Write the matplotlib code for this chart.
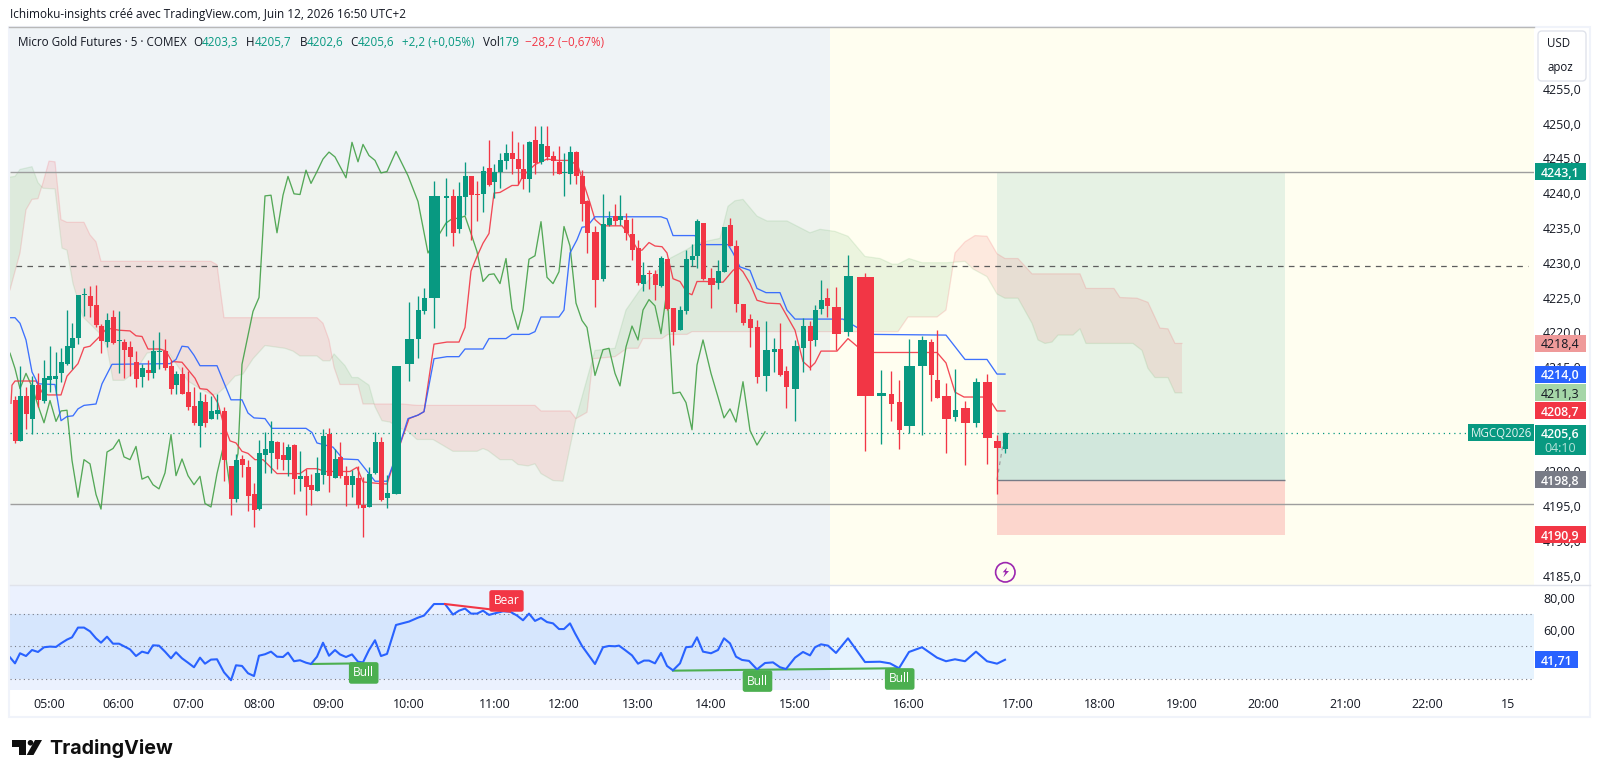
import numpy as np
import matplotlib
matplotlib.use("Agg")
import matplotlib.pyplot as plt
from matplotlib.patches import Rectangle, FancyBboxPatch, Circle, Polygon
from matplotlib.transforms import Affine2D
from matplotlib.lines import Line2D

plt.rcParams['font.family'] = ['Open Sans', 'DejaVu Sans']

# ---------- data ----------
bar_x = [15.3,20.3,26.3,32.3,38.3,44.3,49.7,55.7,61.3,67.3,72.3,78.3,84.3,90.3,96.3,101.3,107.3,113.3,119.3,124.3,
 130.3,136.3,142.3,148.3,153.3,159.3,165.3,171.3,176.3,182.3,188.3,194.3,200.3,205.3,211.3,217.3,224.3,231.3,236.3,242.3,
 248.3,254.3,259.3,265.3,271.3,277.3,283.3,288.3,294.3,300.3,306.3,311.3,317.3,323.3,329.3,335.3,340.3,346.3,352.3,358.3,
 363.3,369.3,375.3,381.3,387.3,396.3,409.3,418.3,424.3,434.3,446.3,453.3,459.3,465.3,471.3,477.3,483.3,489.3,494.3,500.3,
 506.3,512.3,518.3,523.3,529.3,535.3,541.3,547.3,553.3,559.3,564.3,570.3,576.3,582.3,587.3,595.3,603.3,609.3,615.3,620.3,
 626.3,632.3,638.3,643.3,649.3,655.3,661.3,667.3,673.3,680.3,686.3,692.3,697.3,703.3,711.3,718.3,724.3,730.3,736.3,743.3,
 750.3,757.3,766.3,774.3,780.3,786.3,795.3,803.3,810.3,815.3,821.3,827.3,836.3,848.3,865.3,881.3,891.3,899.3,909.3,922.3,
 931.3,937.3,946.3,955.3,965.3,976.3,987.3,997.3,1005.3]
bar_w = [4.7]*36 + [5.3] + [4.7]*28 + [9,9,5,5,11] + [4.7]*25 + [7] + [4.7]*18 + [7] + [4.7]*7 + [7] + [4.7]*3 + [7] + [4.7]*5 + [9,9,17,9,5,5,11,9,5,5,9,5,9,7,9,7,5]
bar_open = [4210.3,4204.4,4210.9,4207.5,4212.5,4210.2,4213.1,4213.3,4214.1,4215.5,4217.7,4219.2,4225.3,4225.2,4223.9,4220.9,4218.6,4222.2,4218.7,4218.6,
 4217.9,4215.8,4213.6,4214.6,4214.1,4217.2,4217.3,4215.2,4212.4,4214.0,4211.4,4209.4,4206.6,4210.0,4207.6,4208.2,4208.7,4200.8,4196.1,4201.8,
 4200.7,4196.7,4194.6,4202.4,4202.7,4204.3,4202.3,4201.6,4203.8,4198.9,4199.3,4198.1,4197.2,4199.5,4205.4,4199.1,4202.1,4199.4,4198.1,4199.0,
 4195.2,4194.9,4199.8,4204.3,4196.2,4196.7,4215.5,4219.0,4223.1,4224.9,4239.3,4239.6,4234.8,4239.4,4242.5,4239.9,4239.9,4243.6,4241.6,4243.1,
 4244.6,4245.8,4244.9,4243.4,4242.1,4247.6,4244.5,4246.8,4245.4,4244.5,4242.9,4242.8,4245.9,4242.4,4238.8,4234.4,4227.7,4235.4,4236.7,4236.1,
 4236.1,4234.1,4232.1,4226.9,4228.5,4228.4,4226.6,4230.5,4223.5,4220.4,4223.1,4230.4,4230.9,4235.7,4227.8,4227.1,4228.7,4235.4,4232.4,4224.1,
 4221.9,4220.7,4213.7,4217.1,4217.6,4214.4,4211.9,4217.7,4220.9,4218.9,4223.4,4224.9,4223.6,4220.0,4228.0,4210.9,4211.1,4210.0,4206.6,4215.2,
 4218.6,4213.1,4210.8,4207.8,4209.1,4207.0,4212.8,4204.4,4203.3]
bar_close = [4204.4,4210.8,4208.2,4212.4,4210.3,4213.4,4213.7,4213.7,4215.8,4218.0,4219.2,4225.3,4225.5,4223.8,4221.0,4218.8,4221.8,4218.5,4218.9,4217.4,
 4216.4,4213.3,4214.9,4214.1,4217.3,4217.3,4214.8,4211.8,4214.0,4211.2,4209.2,4206.9,4210.2,4207.0,4208.7,4208.8,4201.6,4196.1,4201.7,4201.0,
 4196.5,4194.4,4202.7,4203.2,4204.4,4201.8,4201.6,4203.5,4198.9,4199.3,4197.8,4197.4,4199.8,4205.1,4199.3,4201.8,4199.3,4198.0,4199.3,4195.2,
 4194.7,4199.6,4204.2,4195.9,4196.9,4215.2,4219.0,4223.2,4224.9,4239.6,4239.6,4234.2,4239.6,4242.5,4239.7,4239.7,4243.2,4241.2,4243.0,4244.8,
 4245.8,4244.9,4243.4,4242.1,4247.3,4244.3,4247.0,4245.2,4244.6,4242.8,4243.0,4245.9,4242.4,4238.5,4234.2,4227.5,4235.6,4236.4,4236.0,4236.7,
 4234.2,4231.8,4227.1,4228.3,4228.4,4226.8,4230.7,4223.4,4220.1,4223.2,4230.5,4230.9,4236.0,4227.7,4226.8,4228.8,4235.1,4232.4,4224.0,4221.4,
 4220.6,4213.6,4217.4,4217.6,4213.8,4212.1,4218.0,4220.9,4218.7,4223.2,4224.6,4223.8,4219.7,4228.1,4210.9,4211.3,4209.7,4205.9,4215.2,4218.9,
 4213.8,4210.5,4207.6,4208.9,4207.0,4212.8,4204.8,4203.4,4205.6]
bar_high = [4210.9,4215.1,4212.1,4213.7,4214.2,4216.0,4218.0,4217.1,4217.8,4223.2,4221.3,4225.3,4226.3,4226.6,4226.8,4221.2,4222.8,4223.2,4223.0,4219.0,
 4218.7,4217.3,4215.5,4216.0,4218.9,4220.0,4219.0,4216.0,4214.5,4215.0,4214.5,4212.1,4211.4,4211.1,4210.9,4211.2,4209.3,4200.8,4202.5,4202.3,
 4201.6,4198.4,4204.5,4205.7,4207.2,4204.4,4204.2,4204.0,4204.0,4203.0,4200.3,4199.6,4202.1,4206.1,4206.3,4203.3,4204.3,4200.8,4200.2,4200.8,
 4199.2,4200.6,4205.7,4204.9,4199.5,4215.2,4224.3,4225.2,4226.3,4241.8,4242.2,4240.6,4241.6,4244.5,4242.5,4241.8,4243.9,4247.6,4244.2,4245.8,
 4247.0,4248.9,4247.3,4247.0,4247.5,4249.6,4249.6,4249.6,4246.0,4246.7,4245.8,4246.8,4246.1,4243.3,4239.0,4235.3,4239.9,4237.5,4238.4,4239.7,
 4237.1,4236.4,4233.2,4230.1,4229.0,4229.0,4230.9,4230.5,4223.5,4223.8,4231.8,4232.7,4236.3,4235.7,4229.2,4230.4,4235.1,4236.4,4233.2,4224.1,
 4222.6,4221.7,4221.6,4219.2,4221.3,4215.2,4218.9,4222.0,4221.6,4223.9,4227.5,4226.3,4226.5,4231.1,4228.5,4214.6,4214.4,4213.1,4219.0,4219.5,
 4219.0,4220.3,4212.7,4214.7,4210.2,4213.4,4214.0,4205.3,4205.7]
bar_low = [4204.1,4204.4,4206.1,4205.4,4209.2,4209.9,4211.4,4211.2,4212.9,4215.3,4214.7,4218.3,4222.3,4222.2,4220.7,4217.0,4217.9,4218.3,4214.2,4213.5,
 4213.7,4212.1,4212.1,4213.1,4213.4,4214.7,4214.6,4211.2,4211.1,4211.1,4208.8,4206.7,4203.5,4206.4,4207.5,4207.6,4198.6,4193.7,4195.6,4199.2,
 4194.3,4192.0,4194.4,4199.8,4199.8,4200.3,4200.2,4199.4,4196.7,4197.2,4193.7,4195.2,4197.2,4198.2,4197.1,4199.0,4199.0,4195.0,4196.4,4194.8,
 4190.6,4194.9,4199.6,4195.8,4194.8,4196.7,4213.0,4216.3,4222.6,4220.6,4233.8,4232.4,4234.3,4236.9,4233.3,4236.0,4237.3,4241.0,4239.3,4240.8,
 4243.4,4242.7,4241.3,4240.6,4240.1,4242.7,4244.2,4244.8,4242.6,4242.7,4239.6,4241.3,4241.3,4236.0,4231.4,4223.6,4227.4,4235.3,4235.4,4235.4,
 4233.3,4230.4,4226.8,4225.9,4226.2,4224.7,4226.5,4223.2,4218.2,4220.3,4222.6,4229.5,4229.2,4227.5,4223.5,4226.2,4228.6,4232.4,4222.9,4221.1,
 4217.9,4212.7,4211.6,4214.3,4213.7,4209.1,4207.2,4214.3,4214.6,4218.0,4222.6,4222.2,4217.4,4219.5,4202.9,4204.0,4207.2,4203.2,4205.6,4205.3,
 4210.2,4210.5,4202.6,4207.2,4201.0,4206.4,4201.1,4196.8,4202.6]

tenkan_x = [11,12,15,36,42,48,61,67,78,84,90,99,107,119,130,136,142,148,160,166,172,182,195,200,207,213,218,223,230,236,242,248,255,263,277,300,307,317,325,350,357,363,377,387,397,409,418,424,434,447,459,465,471,477,483,489,494,500,512,518,523,535,541,547,558,570,578,590,595,602,622,628,638,642,649,655,662,667,673,680,687,692,697,705,723,733,738,743,750,757,767,780,795,803,810,815,821,837,848,857,873,937,946,955,964,983,992,997,1005]
tenkan_y = [4209.8,4212.4,4213.0,4213.0,4211.4,4211.0,4211.0,4213.7,4215.5,4217.8,4218.0,4219.3,4220.6,4220.3,4220.2,4219.5,4219.4,4217.6,4217.6,4217.3,4215.8,4215.7,4213.4,4211.9,4211.8,4211.0,4209.8,4207.1,4204.4,4204.1,4202.9,4202.6,4201.7,4201.7,4199.7,4199.7,4200.4,4200.4,4200.0,4200.0,4200.6,4198.5,4198.3,4198.2,4202.6,4207.6,4208.1,4208.6,4218.3,4218.6,4218.6,4220.7,4228.8,4230.9,4232.8,4234.2,4240.0,4240.1,4241.1,4241.1,4242.5,4244.1,4244.5,4244.9,4244.7,4244.7,4243.9,4238.6,4236.2,4235.3,4235.3,4234.2,4231.8,4231.8,4232.9,4232.4,4232.3,4231.4,4227.7,4227.3,4225.7,4225.4,4227.3,4227.3,4227.2,4228.9,4229.4,4228.7,4227.0,4224.6,4224.2,4224.1,4220.3,4215.8,4214.9,4215.6,4217.3,4217.3,4219.1,4218.0,4217.1,4217.1,4215.6,4211.4,4210.7,4210.7,4209.8,4208.7,4208.7]

kijun_x = [10,15,20,26,32,38,55,61,67,73,78,84,96,102,112,170,176,182,188,194,200,217,231,242,248,254,265,272,306,312,317,333,343,358,375,387,397,408,418,424,434,447,459,465,483,489,506,512,529,535,541,559,564,570,577,582,587,595,661,667,673,695,700,728,733,740,750,757,766,780,787,795,843,857,873,946,965,987,997,1005]
kijun_y = [4222.1,4222.1,4221.3,4218.9,4214.3,4212.6,4212.5,4207.3,4207.9,4208.0,4209.0,4209.5,4209.7,4212.6,4215.4,4215.5,4216.1,4218.0,4217.9,4216.7,4215.2,4215.2,4210.3,4210.3,4208.4,4207.7,4207.6,4206.2,4206.2,4205.6,4204.1,4203.5,4201.8,4201.7,4198.6,4198.6,4202.6,4207.6,4208.1,4208.6,4216.2,4216.5,4216.5,4217.6,4217.6,4219.1,4219.1,4219.7,4219.7,4220.1,4222.2,4222.2,4223.2,4231.4,4233.3,4235.1,4235.2,4236.6,4236.6,4236.3,4233.9,4233.9,4232.6,4232.6,4231.4,4229.4,4228.9,4226.3,4225.7,4225.7,4223.2,4221.9,4221.9,4220.7,4219.7,4219.6,4216.1,4216.1,4214.0,4214.0]

chikou_x = [10,15,20,26,32,38,44,50,56,61,67,72,78,84,90,96,101,107,113,119,124,130,136,142,148,153,159,165,171,176,182,188,194,200,205,211,217,224,230,238,242,253,259,265,271,277,283,288,294,300,306,311,317,323,329,335,346,352,358,363,369,375,381,387,396,408,418,428,446,452,459,465,471,477,483,489,494,500,506,512,518,523,529,535,541,547,553,559,564,570,576,582,587,595,603,609,615,620,626,632,638,643,649,655,661,667,673,680,686,692,697,703,711,718,724,730,736,743,750,757,765]
chikou_y = [4217.0,4214.8,4211.9,4214.1,4212.2,4209.5,4207.0,4210.2,4207.2,4208.7,4208.8,4201.6,4196.3,4201.7,4201.1,4196.7,4194.6,4202.8,4203.3,4204.6,4202.1,4201.7,4203.6,4198.9,4199.3,4198.1,4197.5,4199.8,4205.3,4199.4,4201.8,4199.4,4198.1,4199.3,4195.4,4194.9,4199.7,4204.0,4197.7,4202.6,4215.4,4223.0,4225.0,4239.6,4239.7,4234.3,4239.7,4242.4,4239.9,4239.8,4243.3,4241.4,4243.1,4244.9,4245.9,4245.2,4242.2,4247.3,4244.5,4247.0,4245.4,4244.7,4242.9,4243.1,4246.0,4242.5,4238.8,4231.4,4235.7,4236.3,4236.4,4236.7,4234.2,4231.6,4227.3,4228.3,4228.4,4227.0,4230.6,4223.4,4220.4,4223.2,4230.5,4231.0,4235.9,4227.9,4227.0,4228.7,4235.2,4232.4,4224.2,4221.7,4220.7,4213.8,4217.5,4217.7,4214.1,4212.3,4217.9,4220.9,4218.9,4223.2,4224.7,4223.8,4219.8,4226.1,4211.2,4211.4,4209.9,4206.0,4215.3,4218.9,4214.1,4210.7,4207.7,4209.0,4207.1,4212.9,4205.9,4203.8,4205.7]

span_a_x = [10,15,20,32,38,43,55,62,67,73,83,100,107,113,124,135,147,160,168,177,188,200,212,218,227,235,243,253,265,285,293,300,317,323,330,334,345,352,358,369,375,382,390,400,407,417,433,453,477,483,488,500,512,518,528,535,541,553,563,570,576,595,615,626,640,667,687,697,720,728,735,743,757,767,787,810,820,835,848,865,880,892,898,909,922,947,965,973,987,997,1005,1018,1032,1038,1045,1052,1058,1073,1080,1086,1133,1142,1148,1155,1168,1175,1182]
span_a_y = [4242.3,4242.4,4243.4,4243.8,4241.5,4240.7,4240.6,4232.1,4231.8,4227.0,4222.2,4219.8,4217.9,4213.1,4213.1,4214.3,4217.0,4217.4,4217.2,4215.3,4213.0,4211.9,4211.0,4211.2,4212.4,4213.7,4214.0,4216.2,4218.1,4217.7,4217.3,4216.6,4216.6,4215.9,4215.9,4216.9,4215.2,4213.5,4213.5,4212.4,4209.3,4207.3,4207.1,4206.2,4205.9,4204.6,4204.6,4202.9,4202.9,4203.3,4203.0,4201.7,4201.7,4201.0,4200.8,4201.1,4199.7,4198.7,4198.6,4203.5,4207.6,4217.4,4217.7,4223.2,4226.1,4230.4,4231.9,4232.8,4233.5,4238.1,4238.9,4239.1,4236.7,4236.0,4236.0,4234.3,4234.8,4234.5,4233.8,4230.9,4230.6,4229.8,4229.8,4230.6,4230.0,4230.0,4230.2,4229.1,4228.0,4225.5,4224.9,4224.9,4221.3,4218.9,4218.4,4218.6,4219.6,4219.6,4220.5,4218.4,4218.4,4217.4,4214.8,4213.5,4213.5,4211.3,4211.3]
span_b_x = [10,20,26,32,38,43,49,55,61,67,84,90,96,101,211,217,224,317,323,329,334,340,358,363,402,417,535,541,570,576,587,593,615,627,638,643,662,668,687,692,898,908,937,946,955,965,975,987,997,1005,1018,1032,1080,1086,1114,1120,1137,1148,1160,1168,1175,1182]
span_b_y = [4226.1,4231.4,4237.6,4239.1,4239.2,4241.5,4244.6,4244.5,4236.2,4235.8,4235.8,4234.0,4233.0,4230.2,4230.2,4229.7,4222.1,4222.1,4221.3,4218.9,4215.0,4212.5,4212.5,4209.7,4209.7,4209.5,4209.5,4208.7,4208.7,4207.6,4208.5,4216.2,4216.5,4217.7,4217.7,4219.1,4219.1,4219.7,4219.7,4220.1,4220.1,4222.2,4222.2,4223.2,4231.4,4233.0,4233.9,4233.8,4231.3,4230.6,4230.6,4228.4,4228.4,4226.3,4226.3,4225.0,4224.9,4224.3,4220.6,4220.5,4218.4,4218.4]

rsi_x = [10,15,20,26,32,38,44,50,56,61,67,72,78,84,90,96,101,107,113,119,124,130,136,142,148,153,159,165,171,176,182,188,194,200,205,211,217,224,231,236,242,248,254,259,265,271,277,283,288,294,300,306,311,317,323,329,335,340,346,352,358,363,369,375,381,387,396,409,418,424,434,445,453,459,465,471,477,483,489,495,503,510,517,523,529,535,541,547,553,559,564,570,575,582,595,603,609,615,619,625,632,638,644,649,655,661,667,673,680,686,692,697,703,711,718,724,730,736,742,749,757,765,773,780,786,795,803,810,815,821,828,836,848,865,880,890,899,909,922,937,946,955,965,976,987,997,1005]
rsi_y = [43.2,39.5,45.7,44.0,47.7,46.5,49.4,49.8,49.6,51.8,54.1,55.5,61.5,61.5,59.2,54.9,52.2,55.9,51.6,51.6,50.0,48.1,44.0,46.7,45.7,50.6,50.4,46.7,42.6,46.3,42.6,39.9,37.1,43.0,39.3,41.8,42.0,34.0,29.1,38.3,37.9,33.4,31.7,44.2,45.1,46.7,43.6,43.4,46.1,40.8,41.4,39.9,39.1,43.6,52.2,44.2,47.7,45.0,43.4,45.0,40.5,40.1,47.7,53.7,44.0,45.3,63.1,65.2,67.6,68.9,76.0,76.0,69.5,71.9,73.2,70.1,70.1,71.9,69.3,70.3,71.5,71.3,68.9,66.0,70.1,65.6,67.4,64.9,64.1,60.6,60.6,64.1,58.0,50.2,39.1,49.4,50.2,50.0,50.4,47.7,44.4,39.3,41.2,41.2,39.5,45.9,37.9,35.2,39.5,49.4,49.8,55.5,46.7,45.7,47.7,54.9,51.8,43.6,41.6,41.0,35.8,39.7,40.1,37.1,36.0,43.0,46.5,44.4,49.4,51.2,50.4,45.9,54.9,40.3,40.5,39.5,36.5,46.5,49.4,43.0,40.8,42.0,40.8,46.7,40.8,39.3,41.71]

price_ticks = [4255,4250,4245,4240,4235,4230,4225,4220,4215,4200,4195,4190,4185]
rsi_ticks = [80,60]
time_labels = ['05:00','06:00','07:00','08:00','09:00','10:00','11:00','12:00','13:00','14:00','15:00','16:00','17:00','18:00','19:00','20:00','21:00','22:00','15']
time_pos = [49,118,188,259,328,409,495,564,638,711,795,909,1018,1100,1182,1263,1345,1427,1508]

target_price, entry_price, stop_price, last_price = 4243.1, 4198.8, 4190.9, 4205.6
level_upper, level_mid, level_lower = 4243.1, 4229.5, 4195.3

GREEN, RED, BLUE, INK = '#089981', '#F23645', '#2962FF', '#131722'
W, H = 1600, 778
LEFT, RIGHT, SPLIT, POS_END, MAIN_TOP, MAIN_BOT, RSI_BOT = 10, 1534, 830, 1285, 27, 585, 690

fig = plt.figure(figsize=(W/100, H/100), dpi=100, facecolor='white')
def rect(x0, y0, x1, y1):
    return [x0/W, 1-y1/H, (x1-x0)/W, (y1-y0)/H]
ax = fig.add_axes(rect(LEFT, MAIN_TOP, RIGHT, MAIN_BOT))
rx = fig.add_axes(rect(LEFT, MAIN_BOT, RIGHT, RSI_BOT))
px = Affine2D().scale(1, -1).translate(0, H)

# ---------- main pane ----------
ax.set_xlim(LEFT, RIGHT)
ax.set_ylim(4183.69, 4263.87)
ax.set_facecolor('#FFFEF0')
for a in (ax, rx):
    for s in a.spines.values():
        s.set_visible(False)
ax.axvspan(LEFT, SPLIT, color='#EFF3F6', lw=0, zorder=0)
ax.add_patch(Rectangle((LEFT, level_lower), SPLIT-LEFT, level_upper-level_lower, fc=(1, 0.96, 0.39, 0.05), lw=0, zorder=0.5))

# risk / reward box
ax.add_patch(Rectangle((997, entry_price), POS_END-997, target_price-entry_price, fc=(0.216,0.635,0.557,0.12), lw=0, zorder=1))
ax.add_patch(Rectangle((997, entry_price), POS_END-997, last_price-entry_price, fc=(0.12,0.56,0.59,0.10), lw=0, zorder=1))
ax.add_patch(Rectangle((997, stop_price), POS_END-997, entry_price-stop_price, fc=(0.949,0.212,0.271,0.2), lw=0, zorder=1))

# cloud
xs = np.union1d(span_a_x, span_b_x)
a_i, b_i = np.interp(xs, span_a_x, span_a_y), np.interp(xs, span_b_x, span_b_y)
ax.fill_between(xs, a_i, b_i, where=a_i >= b_i, interpolate=True, color=(0.263,0.627,0.278,0.10), lw=0, zorder=2)
ax.fill_between(xs, a_i, b_i, where=a_i <= b_i, interpolate=True, color=(0.949,0.212,0.271,0.10), lw=0, zorder=2)
ax.plot(span_a_x, span_a_y, color='#43A047', alpha=0.12, lw=0.9, zorder=2.1)
ax.plot(span_b_x, span_b_y, color=RED, alpha=0.15, lw=0.9, zorder=2.1)

# horizontal levels
ax.hlines([level_upper, level_lower], LEFT, RIGHT, color='#9E9E9E', lw=1.0, zorder=2.2)
ax.hlines(level_mid, 16, 1528, color='#5D5D5D', lw=0.9, linestyle=(0, (4.5, 4.2)), zorder=2.2)
ax.hlines(last_price, LEFT, 1468, color=GREEN, lw=0.9, linestyle=(0, (1, 3.2)), zorder=2.3)
ax.hlines(entry_price, 997, POS_END, color='#787B86', lw=1.0, zorder=2.3)
ax.plot([997, 1005], [entry_price, last_price], color='#A0A0A0', lw=0.9, linestyle=(0, (3, 3)), zorder=2.3)

# indicator lines
ax.plot(chikou_x, chikou_y, color='#43A047', lw=0.95, alpha=0.9, zorder=3)
ax.plot(tenkan_x, tenkan_y, color=RED, lw=0.95, alpha=0.9, zorder=3.1)
ax.plot(kijun_x, kijun_y, color=BLUE, lw=0.95, alpha=0.9, zorder=3.2)

# candles
colors = [GREEN if c >= o else RED for o, c in zip(bar_open, bar_close)]
ax.vlines(bar_x, bar_low, bar_high, colors=colors, lw=0.95, zorder=4)
ax.bar(bar_x, np.abs(np.subtract(bar_close, bar_open)), bottom=np.minimum(bar_open, bar_close),
       width=bar_w, color=colors, lw=0, zorder=4.1)

ax.yaxis.tick_right()
ax.set_yticks(price_ticks)
ax.set_yticklabels([f'{v:.1f}'.replace('.', ',') for v in price_ticks], fontsize=8.9, color=INK)
ax.tick_params(axis='y', length=0, pad=6.5)
ax.set_xticks([])

def tag(a, value, text, fc, tc, h, x0=1535, x1=1585.7, ha='center', size=8.9, weight='normal'):
    a.add_patch(Rectangle((x0, value-h/2), x1-x0, h, fc=fc, lw=0, clip_on=False, zorder=10))
    a.text((x0+x1)/2, value, text, color=tc, fontsize=size, ha=ha, va='center_baseline', clip_on=False, zorder=11, weight=weight)

unit = 1/6.96
tag(ax, target_price, '4243,1', GREEN, 'white', 17*unit, weight='semibold')
tag(ax, 4218.4, '4218,4', '#EF9A9A', INK, 17*unit)
tag(ax, 4214.0, '4214,0', BLUE, 'white', 17*unit, weight='semibold')
tag(ax, 4211.3, '4211,3', '#A5D6A7', INK, 17*unit)
tag(ax, 4208.7, '4208,7', RED, 'white', 17*unit, weight='semibold')
ax.add_patch(Rectangle((1535, last_price-22.5*unit), 50.7, 30.5*unit, fc=GREEN, lw=0, clip_on=False, zorder=10))
ax.text(1560.3, last_price, '4205,6', color='white', fontsize=8.9, ha='center', va='center_baseline', clip_on=False, zorder=11, weight='semibold')
ax.text(1560.3, last_price-14*unit, '04:10', color='#B5E2D9', fontsize=8.9, ha='center', va='center_baseline', clip_on=False, zorder=11)
ax.add_patch(Rectangle((1468, last_price-8*unit), 66, 17*unit, fc=GREEN, lw=0, clip_on=False, zorder=10))
ax.text(1501, last_price+0.5*unit, 'MGCQ2026', color='#E4F4F1', fontsize=8.3, ha='center', va='center_baseline', clip_on=False, zorder=11)
tag(ax, entry_price, '4198,8', '#787B86', 'white', 17*unit, weight='semibold')
tag(ax, stop_price, '4190,9', RED, 'white', 17*unit, weight='semibold')

# ---------- RSI pane ----------
rx.set_xlim(LEFT, RIGHT)
rx.set_ylim(23.1, 87.7)
rx.set_facecolor('white')
rx.axvspan(LEFT, SPLIT, color='#EBF1FE', lw=0, zorder=0)
rx.add_patch(Rectangle((LEFT, 30), SPLIT-LEFT, 40, fc='#D6E6FD', lw=0, zorder=0.5))
rx.add_patch(Rectangle((SPLIT, 30), RIGHT-SPLIT, 40, fc='#E6F3FE', lw=0, zorder=0.5))
rx.hlines([70, 50, 30], LEFT, RIGHT, color='#787B86', lw=0.8, linestyle=(0, (1, 3)), zorder=1)
rx.plot(rsi_x, rsi_y, color=BLUE, lw=1.5, zorder=3, solid_joinstyle='round')
rx.plot([311, 363], [39.1, 39.5], color='#4CAF50', lw=1.5, zorder=2.5)
rx.plot([673, 899], [35.0, 36.5], color='#4CAF50', lw=1.5, zorder=2.5)
rx.plot([445, 510], [76.0, 71.3], color=RED, lw=1.5, zorder=3.5)
for xv, yv, s, c in [(363.7, 33.6, 'Bull', '#4CAF50'), (757.5, 28.6, 'Bull', '#4CAF50'),
                     (899.7, 29.9, 'Bull', '#4CAF50'), (506.5, 77.9, 'Bear', RED)]:
    rx.text(xv, yv, s, color='white', fontsize=8.6, ha='center', va='center', zorder=5,
            bbox=dict(boxstyle='round,pad=0.36,rounding_size=0.2', fc=c, ec=c, lw=0))
rx.yaxis.tick_right()
rx.set_yticks(rsi_ticks)
rx.set_yticklabels([f'{v},00' for v in rsi_ticks], fontsize=8.9, color=INK)
rx.tick_params(axis='y', length=0, pad=6.5)
rx.set_xticks(time_pos)
rx.set_xticklabels(time_labels, fontsize=8.9, color=INK)
rx.tick_params(axis='x', length=0, pad=6)
tag(rx, 41.71, '41,71', BLUE, 'white', 17/1.625, x1=1577.7, weight='semibold')

# ---------- chrome ----------
fig.add_artist(Rectangle((9, 27), 1581, 690, transform=px, fc='none', ec='#F0F3FA', lw=1.5, zorder=6))
fig.add_artist(Line2D([9, 1534], [27.3, 27.3], transform=px, color='#B8B8B8', lw=1, zorder=7))
fig.add_artist(Line2D([10, 1590], [585, 585], transform=px, color='#E0E3EB', lw=1, zorder=7))
fig.add_artist(FancyBboxPatch((1538, 31), 48, 50, boxstyle='round,pad=0,rounding_size=4', transform=px,
                              fc='white', ec='#E0E3EB', lw=1, zorder=20))
fig.text(1547/W, 1-43.5/H, 'USD', fontsize=8.3, color=INK, ha='left', va='center', zorder=21)
fig.text(1547/W, 1-67/H, 'apoz', fontsize=8.3, color=INK, ha='left', va='center', zorder=21)

fig.text(10/W, 1-14.5/H, 'Ichimoku-insights créé avec TradingView.com, Juin 12, 2026 16:50 UTC+2',
         fontsize=8.5, color=INK, ha='left', va='center')
for xp, s, c in [(18, 'Micro Gold Futures · 5 · COMEX', INK), (193, 'O', INK), (201.5, '4203,3', GREEN),
                 (246, 'H', INK), (255, '4205,7', GREEN), (300, 'B', INK), (307, '4202,6', GREEN),
                 (350.5, 'C', INK), (358, '4205,6', GREEN), (402, '+2,2 (+0,05%)', GREEN),
                 (483, 'Vol', INK), (499, '179', GREEN), (525, '−28,2 (−0,67%)', RED)]:
    fig.text(xp/W, 1-42/H, s, fontsize=8.4, color=c, ha='left', va='center', zorder=8)

# replay icon
fig.add_artist(Circle((1005.3, 572.3), 9.7, transform=px, fc='none', ec='#9C27B0', lw=1.2, zorder=8))
fig.add_artist(Polygon([(1007, 567.3), (1002.7, 572.3), (1005.3, 572.3), (1003.3, 577.3), (1009, 571), (1006, 571)],
                       transform=px, fc='#9C27B0', lw=0, zorder=8))

# logo
fig.add_artist(Polygon([(12, 740), (26, 740), (26, 755), (19, 755), (19, 747), (12, 747)], transform=px, fc='#0F0F0F', lw=0, zorder=8))
fig.add_artist(Circle((30.5, 742.8), 2.8, transform=px, fc='#0F0F0F', lw=0, zorder=8))
fig.add_artist(Polygon([(35, 740), (42, 740), (33.5, 755), (26.7, 755)], transform=px, fc='#0F0F0F', lw=0, zorder=8))
fig.text(49/W, 1-748.5/H, 'TradingView', fontsize=14.2, color='#0F0F0F', ha='left', va='center', family='Inter', weight='bold', zorder=8)

fig.savefig('out.png', dpi=100, facecolor='white')
